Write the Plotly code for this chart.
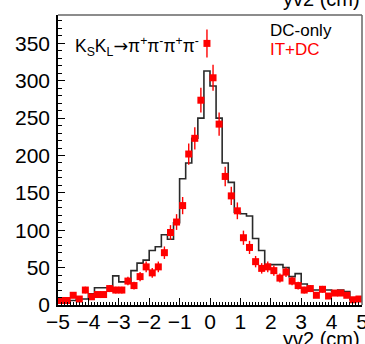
import numpy as np
import plotly.graph_objects as go

# bin centers (width 0.2) from -4.9 to 4.9
bin_centers = [round(-4.9 + 0.2 * i, 1) for i in range(50)]
bin_width = 0.2

dc_only = [4, 4, 6, 8, 8, 15, 23, 23, 23, 39,
           31, 31, 46, 56, 60, 73, 78, 94, 88, 110,
           169, 190, 223, 250, 313, 293, 250, 190, 164, 124,
           122, 119, 89, 73, 54, 54, 54, 50, 38, 42,
           28, 20, 20, 20, 20, 18, 20, 18, 7, 7]

it_dc = [6, 6, 13, 8, 20, 11, 14, 14, 22, 20,
         20, 32, 26, 38, 51, 43, 51, 70, 97, 111,
         133, 202, 223, 274, 350, 304, 242, 172, 146, 126,
         90, 77, 58, 49, 51, 46, 36, 44, 32, 26,
         20, 22, 13, 21, 12, 16, 16, 13, 7, 8]

x_ticks = [-5, -4, -3, -2, -1, 0, 1, 2, 3, 4, 5]
y_ticks = [0, 50, 100, 150, 200, 250, 300, 350]

FONT = "Liberation Sans, Arial, Helvetica, sans-serif"

# step outline from bins
step_x, step_y = [], []
for c, v in zip(bin_centers, dc_only):
    step_x += [c - bin_width / 2, c + bin_width / 2]
    step_y += [v, v]

fig = go.Figure()
fig.add_trace(go.Scatter(x=step_x, y=step_y, mode="lines",
                         line=dict(color="#2a2a2a", width=1.6),
                         showlegend=False, hoverinfo="skip"))
fig.add_trace(go.Scatter(x=bin_centers, y=it_dc, mode="markers",
                         marker=dict(symbol="square", size=7, color="#ff0000"),
                         error_y=dict(type="data", array=list(np.sqrt(it_dc)),
                                      color="#ff0000", thickness=1.4, width=0),
                         showlegend=False))

fig.update_layout(
    template=None,
    width=365, height=344,
    margin=dict(l=58, r=3, t=15, b=39),
    plot_bgcolor="white", paper_bgcolor="white",
    font=dict(family=FONT, color="black"),
    xaxis=dict(range=[-5, 5], tickvals=x_ticks, ticks="inside", ticklen=7,
               tickcolor="black", linecolor="black", linewidth=1.5,
               showline=True, showgrid=False, zeroline=False,
               automargin=False, ticklabeloverflow="allow",
               ticklabelstandoff=-3,
               tickfont=dict(size=21, family=FONT),
               minor=dict(dtick=0.1, tick0=0, ticks="inside", ticklen=3,
                          tickcolor="black", showgrid=False)),
    yaxis=dict(range=[0, 388], tickvals=y_ticks, ticks="inside", ticklen=7,
               tickcolor="black", linecolor="black", linewidth=1.5,
               showline=True, showgrid=False, zeroline=False,
               automargin=False,
               tickfont=dict(size=21, family=FONT), ticklabelstandoff=2,
               minor=dict(dtick=10, tick0=0, ticks="inside", ticklen=4,
                          tickcolor="black", showgrid=False)),
    shapes=[
        dict(type="line", xref="paper", yref="paper", x0=0, x1=1, y0=1, y1=1,
             line=dict(color="#666666", width=1.5)),
        dict(type="line", xref="paper", yref="paper", x0=1, x1=1, y0=0, y1=1,
             line=dict(color="#666666", width=1.5)),
    ],
    annotations=[
        dict(text="K<sub>S</sub>K<sub>L</sub><span style='font-family:DejaVu Sans'>→</span>π<sup>+</sup>π<sup>-</sup>π<sup>+</sup>π<sup>-</sup>",
             xref="paper", yref="paper", x=0.05, y=0.891, xanchor="left",
             yanchor="middle", showarrow=False, font=dict(size=17.5, family=FONT)),
        dict(text="DC-only", xref="paper", yref="paper", x=0.69, y=0.945,
             xanchor="left", yanchor="middle", showarrow=False,
             font=dict(size=17, family=FONT, color="black")),
        dict(text="IT+DC", xref="paper", yref="paper", x=0.69, y=0.88,
             xanchor="left", yanchor="middle", showarrow=False,
             font=dict(size=17, family=FONT, color="#ff0000")),
        dict(text="yv2 (cm)", xref="paper", yref="paper", x=1.0, y=-0.071,
             xanchor="right", yanchor="top", showarrow=False,
             font=dict(size=20, family=FONT)),
        dict(text="yv2 (cm)", xref="paper", yref="paper", x=1.0, y=1.01,
             xanchor="right", yanchor="bottom", showarrow=False,
             font=dict(size=20, family=FONT)),
    ],
)

fig.write_html("out.html", config={"displayModeBar": False},
               post_script="document.body.style.margin='0';")
